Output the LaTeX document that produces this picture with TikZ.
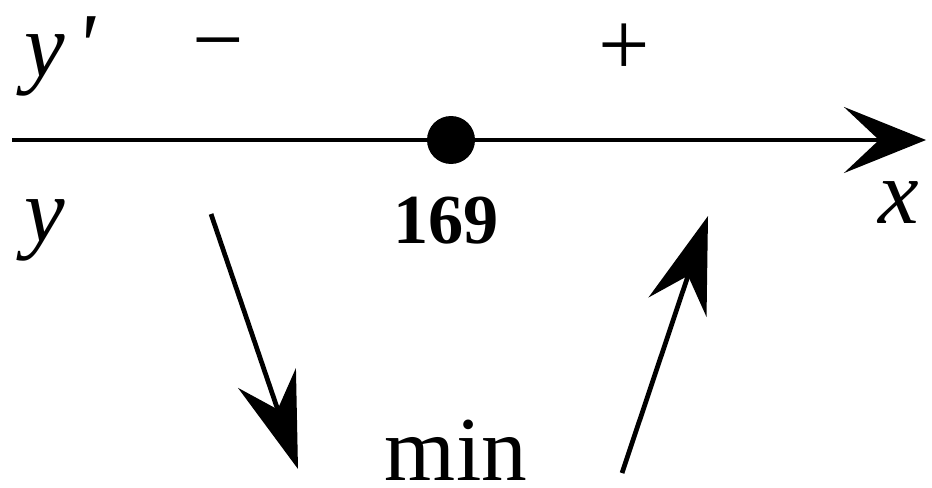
\documentclass[tikz,border=0pt]{standalone}
\usepackage{fontspec}
\newfontfamily\tf{Liberation Serif}
\usetikzlibrary{arrows.meta}
\tikzset{
  lbl/.style={inner sep=0pt, anchor=base west, font=\tf\fontsize{52}{60}\selectfont},
  axisarrow/.style={line width=2.6pt, -{Stealth[length=1.64cm,width=1.32cm,inset=0.7cm]}},
  slantarrow/.style={line width=2.7pt, -{Stealth[length=1.92cm,width=1.22cm,inset=0.66cm]}},
  dotnode/.style={circle, fill, inner sep=0pt, minimum size=0.96cm},
}
\begin{document}
\begin{tikzpicture}[x=0.02cm,y=-0.02cm]
\useasboundingbox (0,0) rectangle (932,487);
% axis
\coordinate (axs) at (12,140);
\coordinate (axe) at (926,140);
\draw[axisarrow] (axs) -- (axe);
\node[dotnode] (crit) at (451,140) {};
% labels
\node[lbl] (yp) at (24,76) {\itshape y\hspace{0.12em}'};
\node[lbl] (yy) at (24,241) {\itshape y};
\node[lbl] (xx) at (878,223) {\itshape x};
\node[lbl, anchor=base] (minus) at (218,70) {\char"2212};
\node[lbl, anchor=base] (plus) at (624,75) {+};
\node[lbl, anchor=base, font=\tf\bfseries\fontsize{40}{48}\selectfont] (val) at (446,243) {169};
\node[lbl, anchor=base] (mn) at (456,480) {min};
% slanted arrows
\coordinate (d1) at (211,214);
\coordinate (d2) at (298,469);
\coordinate (u1) at (622,473);
\coordinate (u2) at (708,216);
\draw[slantarrow] (d1) -- (d2);
\draw[slantarrow] (u1) -- (u2);
\end{tikzpicture}
\end{document}
